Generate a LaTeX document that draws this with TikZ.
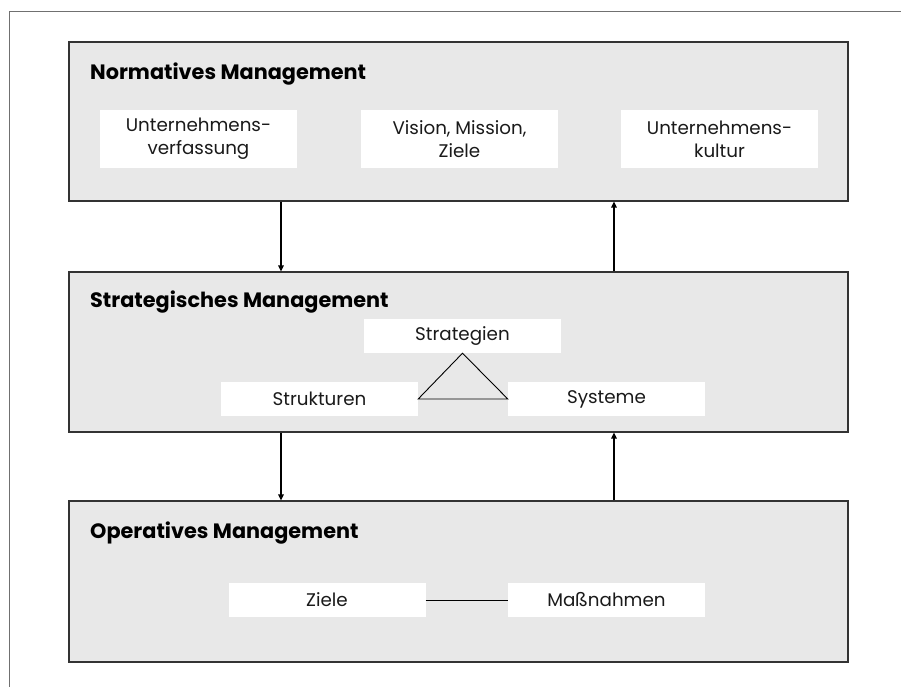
\documentclass[tikz,border=0pt]{standalone}
\usepackage{fontspec}
\setmainfont{Poppins}
\usetikzlibrary{arrows.meta,calc}
\definecolor{panelfill}{HTML}{E8E8E8}
\definecolor{panelline}{HTML}{333333}
\definecolor{framegray}{HTML}{707070}
\definecolor{textdark}{HTML}{1A1A1A}
\tikzset{
  panel/.style={draw=panelline, line width=1.1pt, fill=panelfill,
    minimum width=779pt, inner sep=0pt},
  itembox/.style={fill=white, draw=none, minimum width=197pt, inner sep=0pt,
    align=center, text=textdark, font=\fontsize{18.3}{23}\selectfont},
  paneltitle/.style={anchor=base west, inner sep=0pt, text=black,
    font=\fontsize{20.8}{24}\selectfont\bfseries},
  flow/.style={line width=1.3pt, -{Triangle[length=6pt,width=5.5pt]}},
  link/.style={line width=0.9pt, draw=black}
}
\begin{document}
\begin{tikzpicture}[x=1pt,y=-1pt]
  \useasboundingbox (0,0) rectangle (901,687);
  % page frame
  \draw[framegray, line width=1pt] (901,12) -- (9,12) -- (9,687);

  % three management levels
  \node[panel, minimum height=159pt] (norm)  at (458.5,121.5) {};
  \node[panel, minimum height=160pt] (strat) at (458.5,352) {};
  \node[panel, minimum height=161pt] (oper)  at (458.5,581.5) {};

  \node[paneltitle] (normT)  at (90,80)  {Normatives Management};
  \node[paneltitle] (stratT) at (90,307) {Strategisches Management};
  \node[paneltitle] (operT)  at (90,538) {Operatives Management};

  % normative level
  \node[itembox, minimum height=58pt] (verf)  at (198.5,139) {Unternehmens-\\verfassung};
  \node[itembox, minimum height=58pt] (ziele) at (459.5,139) {Vision, Mission,\\Ziele};
  \node[itembox, minimum height=58pt] (kult)  at (719.5,139) {Unternehmens-\\kultur};

  % strategic level
  \node[itembox, minimum height=34pt] (strg) at (462.5,336) {Strategien};
  \node[itembox, minimum height=34pt] (strk) at (319.5,399) {Strukturen};
  \node[itembox, minimum height=34pt] (syst) at (606.5,399) {Systeme};
  \draw[link, line join=miter] (strk.east) -- (strg.south) -- (syst.west) -- cycle;

  % operative level
  \node[itembox, minimum height=34pt] (opz) at (327,600) {Ziele};
  \node[itembox, minimum height=34pt] (mas) at (606.5,600) {Maßnahmen};
  \draw[link] (opz.east) -- (mas.west);

  % flows between levels
  \coordinate (xl) at (281,0);
  \coordinate (xr) at (614,0);
  \draw[flow] (norm.south -| xl) -- (strat.north -| xl);
  \draw[flow] (strat.north -| xr) -- (norm.south -| xr);
  \draw[flow] (strat.south -| xl) -- (oper.north -| xl);
  \draw[flow] (oper.north -| xr) -- (strat.south -| xr);
\end{tikzpicture}
\end{document}
